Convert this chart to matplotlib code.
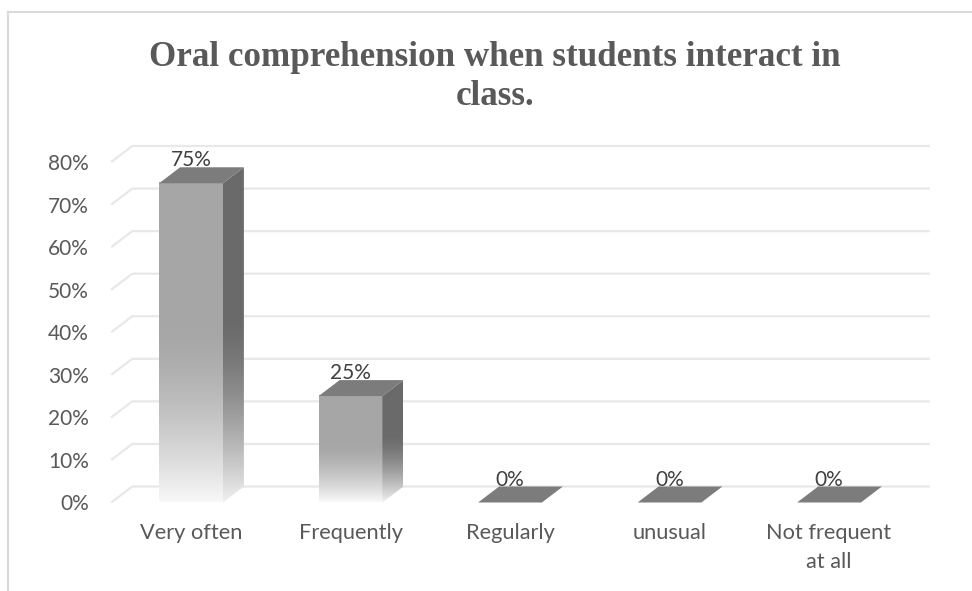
import numpy as np
import matplotlib
matplotlib.use('Agg')
import matplotlib.pyplot as plt
from matplotlib.patches import Polygon
from matplotlib.lines import Line2D

# ---- data ----
categories = ['Very often', 'Frequently', 'Regularly', 'unusual', 'Not frequent\nat all']
values = [75, 25, 0, 0, 0]
value_labels = ['75%', '25%', '0%', '0%', '0%']
y_ticks = [0, 10, 20, 30, 40, 50, 60, 70, 80]
y_tick_labels = ['0%', '10%', '20%', '30%', '40%', '50%', '60%', '70%', '80%']
title = 'Oral comprehension when students interact in\nclass.'

# ---- style ----
W, H = 972, 591
DX, DY = 21, 16            # depth offset in pixels
BAR_W = 0.4
TEXT = '#595959'
GRID = '#e8e8e8'
FONT = 'Lato'

fig = plt.figure(figsize=(W / 100, H / 100), dpi=100)
fig.patch.set_facecolor('white')

# chart-area border (left and top visible)
fig.add_artist(Line2D([8 / W, 8 / W], [0, 1 - 12 / H], transform=fig.transFigure,
                      color='#d9d9d9', lw=1.5))
fig.add_artist(Line2D([8 / W, 1], [1 - 12 / H, 1 - 12 / H], transform=fig.transFigure,
                      color='#d9d9d9', lw=1.5))

ax = fig.add_axes([111.25 / W, 88.5 / H, 797.5 / W, 340.5 / H])
ax.set_xlim(0, len(categories))
ax.set_ylim(0, 80)
ax.set_facecolor('none')
for s in ax.spines.values():
    s.set_visible(False)

p0 = ax.transData.transform((0, 0))
p1 = ax.transData.transform((1, 1))
ddx = DX / (p1[0] - p0[0])
ddy = DY / (p1[1] - p0[1])

# gridlines: back wall + left side wall diagonals
for y in y_ticks:
    ax.plot([0, ddx, len(categories) + ddx], [y, y + ddy, y + ddy], color=GRID,
            lw=1.6, clip_on=False, zorder=0, solid_capstyle='butt')

n = 256
t = np.linspace(0, 1, n)
s = np.clip((t - 0.45) / 0.55, 0, 1) ** 1.5


def grad_img(top, bottom):
    g = (top + (bottom - top) * s) / 255.0
    return np.repeat(g[:, None, None], 3, axis=2)


front_img = grad_img(166, 248)
side_img = grad_img(106, 240)

for i, (v, lbl) in enumerate(zip(values, value_labels)):
    xc = i + 0.5
    xl, xr = xc - BAR_W / 2, xc + BAR_W / 2
    if v > 0:
        ax.imshow(front_img, extent=[xl, xr, 0, v], aspect='auto', origin='upper',
                  zorder=2, interpolation='bilinear')
        side = Polygon([(xr, 0), (xr + ddx, ddy), (xr + ddx, v + ddy), (xr, v)],
                       closed=True, facecolor='none', edgecolor='none')
        ax.add_patch(side)
        im = ax.imshow(side_img, extent=[xr, xr + ddx, 0, v + ddy], aspect='auto',
                       origin='upper', zorder=2, interpolation='bilinear')
        im.set_clip_path(side)
    top = Polygon([(xl, v), (xr, v), (xr + ddx, v + ddy), (xl + ddx, v + ddy)],
                  closed=True, facecolor='#7c7c7c', edgecolor='none', zorder=3)
    ax.add_patch(top)
    ax.annotate(lbl, (xc, v), xytext=(0, (DY + 1) * 0.72), textcoords='offset points',
                ha='center', va='baseline', fontsize=15, color='#404040',
                family=FONT, zorder=4)

ax.set_xlim(0, len(categories))
ax.set_ylim(0, 80)

ax.set_xticks([i + 0.5 for i in range(len(categories))])
ax.set_xticklabels(categories, fontsize=15.7, color=TEXT, family=FONT, linespacing=1.55)
ax.set_yticks(y_ticks)
ax.set_yticklabels(y_tick_labels, fontsize=15, color=TEXT, family=FONT)
ax.tick_params(axis='x', length=0, pad=15)
ax.tick_params(axis='y', length=0, pad=16)

fig.text(495 / W, 1 - 77 / H, title, ha='center', va='center', multialignment='center',
         fontsize=25.2, fontweight='bold', color=TEXT, family='Liberation Serif',
         linespacing=1.22)

fig.savefig('out.png', dpi=100)
